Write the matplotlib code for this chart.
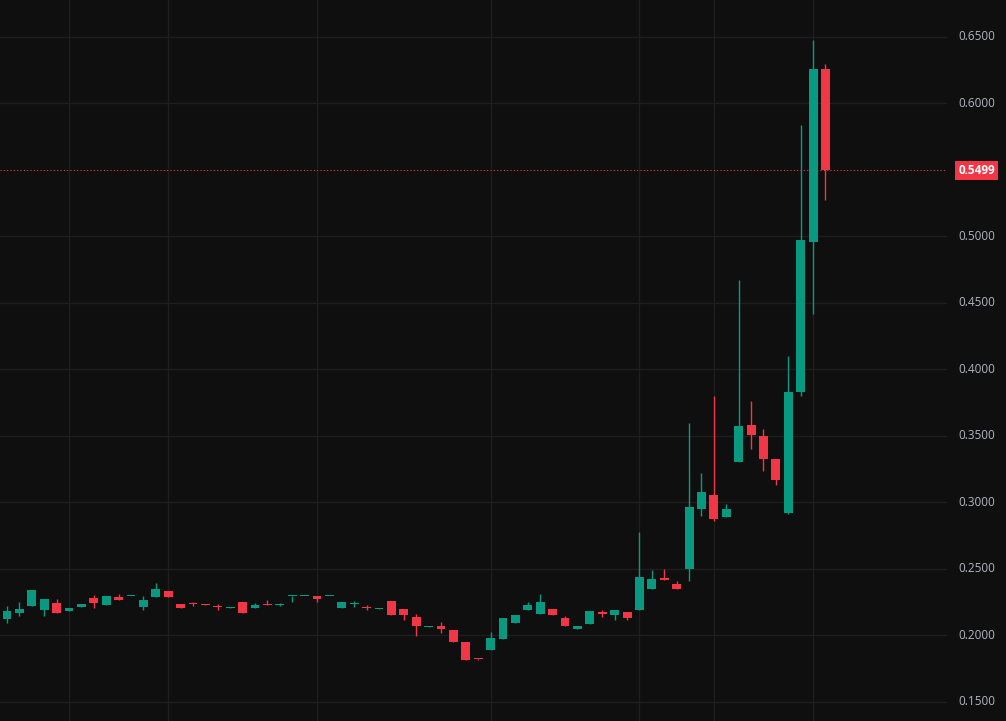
import numpy as np
import matplotlib
matplotlib.use("Agg")
import matplotlib.pyplot as plt
import matplotlib.transforms as mtransforms

# OHLC
opens = [0.2124, 0.2169, 0.2222, 0.2192, 0.2244, 0.2184, 0.2214, 0.2282, 0.2229, 0.2289,
         0.2295, 0.2214, 0.2289, 0.2335, 0.2237, 0.2240, 0.2232, 0.2220, 0.2205, 0.2252,
         0.2207, 0.2232, 0.2227, 0.2295, 0.2296, 0.2297, 0.2296, 0.2207, 0.2235, 0.2208,
         0.2201, 0.2259, 0.2199, 0.2139, 0.2064, 0.2071, 0.2041, 0.1951, 0.1823, 0.1891,
         0.1974, 0.2094, 0.2192, 0.2162, 0.2199, 0.2132, 0.2049, 0.2086, 0.2172, 0.2154,
         0.2177, 0.2192, 0.2350, 0.2425, 0.2384, 0.2500, 0.2951, 0.3054, 0.2893, 0.3304,
         0.3583, 0.3497, 0.3327, 0.2922, 0.3830, 0.4962, 0.6256]
highs = [0.2222, 0.2252, 0.2342, 0.2274, 0.2274, 0.2207, 0.2237, 0.2305, 0.2297, 0.2312,
         0.2300, 0.2297, 0.2395, 0.2335, 0.2237, 0.2255, 0.2234, 0.2237, 0.2211, 0.2252,
         0.2244, 0.2267, 0.2244, 0.2300, 0.2300, 0.2297, 0.2300, 0.2252, 0.2260, 0.2230,
         0.2210, 0.2259, 0.2199, 0.2162, 0.2068, 0.2100, 0.2041, 0.1951, 0.1825, 0.2026,
         0.2132, 0.2154, 0.2252, 0.2312, 0.2199, 0.2147, 0.2071, 0.2184, 0.2195, 0.2192,
         0.2177, 0.2778, 0.2491, 0.2500, 0.2409, 0.3597, 0.3218, 0.3798, 0.2988, 0.4669,
         0.3764, 0.3554, 0.3327, 0.4103, 0.5839, 0.6474, 0.6299]
lows = [0.2094, 0.2147, 0.2222, 0.2147, 0.2169, 0.2184, 0.2214, 0.2207, 0.2229, 0.2267,
        0.2295, 0.2192, 0.2289, 0.2289, 0.2207, 0.2222, 0.2226, 0.2195, 0.2205, 0.2169,
        0.2207, 0.2227, 0.2220, 0.2252, 0.2296, 0.2252, 0.2296, 0.2207, 0.2215, 0.2190,
        0.2198, 0.2154, 0.2117, 0.1996, 0.2064, 0.2020, 0.1951, 0.1816, 0.1818, 0.1891,
        0.1974, 0.2094, 0.2192, 0.2162, 0.2154, 0.2071, 0.2049, 0.2086, 0.2140, 0.2120,
        0.2120, 0.2192, 0.2350, 0.2420, 0.2350, 0.2407, 0.2902, 0.2864, 0.2893, 0.3304,
        0.3405, 0.3238, 0.3132, 0.2910, 0.3801, 0.4416, 0.5273]
closes = [0.2184, 0.2199, 0.2342, 0.2274, 0.2169, 0.2207, 0.2237, 0.2244, 0.2297, 0.2267,
          0.2298, 0.2267, 0.2350, 0.2289, 0.2207, 0.2235, 0.2228, 0.2212, 0.2209, 0.2169,
          0.2229, 0.2227, 0.2232, 0.2300, 0.2300, 0.2274, 0.2300, 0.2252, 0.2238, 0.2204,
          0.2205, 0.2154, 0.2154, 0.2071, 0.2068, 0.2049, 0.1951, 0.1816, 0.1820, 0.1981,
          0.2132, 0.2154, 0.2229, 0.2252, 0.2154, 0.2071, 0.2071, 0.2184, 0.2164, 0.2192,
          0.2132, 0.2440, 0.2425, 0.2420, 0.2350, 0.2965, 0.3080, 0.2879, 0.2951, 0.3577,
          0.3511, 0.3327, 0.3169, 0.3830, 0.4971, 0.6256, 0.5499]
price_ticks = [0.15, 0.20, 0.25, 0.30, 0.35, 0.40, 0.45, 0.50, 0.55, 0.60, 0.65]
vgrid_idx = [5, 13, 25, 39, 51, 57, 65]
last_price = 0.5499

UP, DOWN = "#089981", "#f23645"
BG, GRID, TXT = "#0f0f0f", "#1e1e1e", "#b2b5be"

fig = plt.figure(figsize=(10.06, 7.21), dpi=100, facecolor=BG)
ax = fig.add_axes([0, 0, 1, 1], facecolor=BG)
ax.set_xlim(-0.565, 80.56)
ax.set_ylim(0.1357, 0.6778)
ax.axis("off")

for p in price_ticks:
    if p == 0.55:
        continue
    ax.axhline(p, xmax=0.94, color=GRID, lw=1, zorder=0)
for i in vgrid_idx:
    ax.axvline(i, color=GRID, lw=1, zorder=0)

x = np.arange(len(opens))
o, h, l, c = map(np.array, (opens, highs, lows, closes))
col = np.where(c >= o, UP, DOWN)
ax.vlines(x, l, h, colors=col, lw=1, zorder=2)
bottom = np.minimum(o, c)
height = np.maximum(np.abs(c - o), 0.0009)
ax.bar(x, height, bottom=bottom, width=0.72, color=col, zorder=3)

ax.axhline(last_price, xmax=0.94, color=DOWN, lw=0.8, ls=(0, (1, 2)), zorder=1)

tr = mtransforms.blended_transform_factory(ax.transAxes, ax.transData)
for p in price_ticks:
    if p == 0.55:
        continue
    ax.text(0.989, p, f"{p:.4f}", transform=tr, ha="right", va="center",
            color=TXT, fontsize=8.5, family="Open Sans")
ax.text(0.989, last_price, f"{last_price:.4f}", transform=tr, ha="right", va="center",
        color="white", fontsize=8.5, weight="bold", family="Open Sans",
        bbox=dict(boxstyle="square,pad=0.25", fc=DOWN, ec="none"))

fig.savefig("out.png", dpi=100, facecolor=BG)
